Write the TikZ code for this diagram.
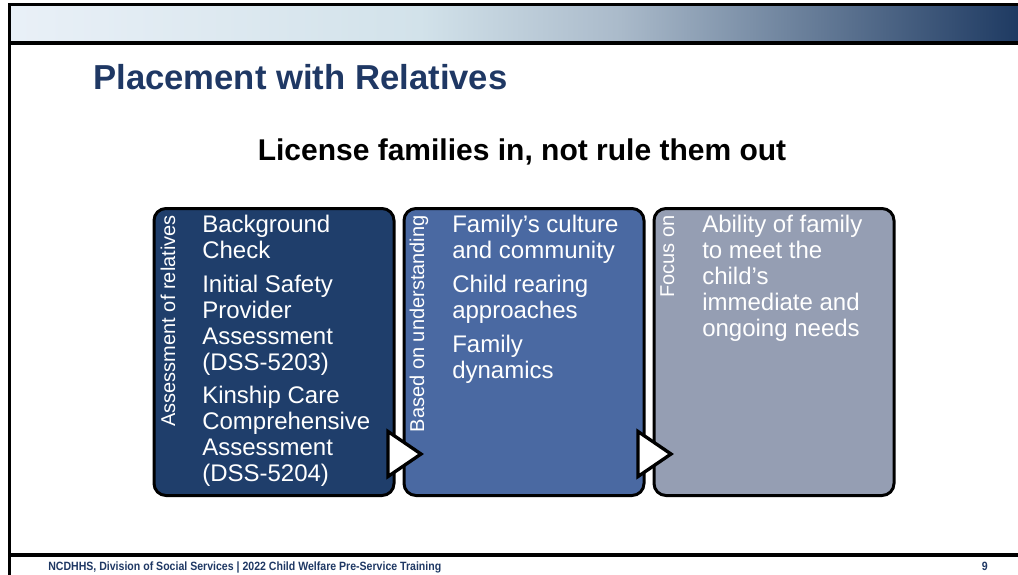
\documentclass[tikz,border=0pt]{standalone}
\usepackage{fontspec}
\setmainfont{Liberation Sans}
\newfontfamily\narrowsans[FakeStretch=0.88]{Liberation Sans}
\usetikzlibrary{positioning,calc}
\definecolor{KinNavy}{HTML}{1F3864}
\definecolor{KinDeep}{HTML}{1F3E6B}
\definecolor{KinMid}{HTML}{4A69A2}
\definecolor{KinSlate}{HTML}{959EB3}
\definecolor{BandA}{HTML}{E9F0F7}
\definecolor{BandB}{HTML}{D2E2EA}
\definecolor{BandC}{HTML}{AABACA}
\definecolor{BandD}{HTML}{1E3A62}

\begin{document}
\begin{tikzpicture}[x=0.75pt, y=-0.75pt,
  stagebox/.style={draw=black, line width=2.25pt, rounded corners=9pt,
    minimum width=180pt, minimum height=215.25pt, inner sep=0pt, outer sep=0pt},
  sidelabel/.style={rotate=90, anchor=base east, inner sep=0pt, text=white,
    font=\fontsize{15}{18}\selectfont},
  itemtext/.style={anchor=north west, inner sep=0pt, align=left, text=white,
    font=\fontsize{18}{19.5}\selectfont},
  flowtip/.style={fill=white, draw=black, line width=2.5pt, line join=miter}]
  \useasboundingbox (0,0) rectangle (1018,575);
  % header band and frame
  \fill[black] (8,3) rectangle (1018,45);
  \shade[left color=BandA, right color=BandB] (10.5,6) rectangle (420.5,40);
  \shade[left color=BandB, right color=BandC] (420,6) rectangle (620.5,40);
  \shade[left color=BandC, right color=BandD] (620,6) rectangle (1018,40);
  \fill[black] (8,3) rectangle (10.5,575);
  \fill[black] (8,553) rectangle (1018,557);

  \node[anchor=base west, inner sep=0pt, text=KinNavy,
        font=\bfseries\fontsize{26}{30}\selectfont] (title) at (93,89)
        {Placement with Relatives};
  \node[anchor=base, inner sep=0pt,
        font=\bfseries\fontsize{22.5}{26}\selectfont] (motto) at (522,160)
        {License families in, not rule them out};

  % the three stages
  \node[stagebox, fill=KinDeep] (assess) at (274,352) {};
  \node[stagebox, fill=KinMid, right=7.5pt of assess] (understand) {};
  \node[stagebox, fill=KinSlate, right=7.5pt of understand] (focus) {};

  \node[sidelabel] (assesslbl) at ($(assess.north west)+(21,6.5)$) {Assessment of relatives};
  \node[sidelabel] (understandlbl) at ($(understand.north west)+(20,6.5)$) {Based on understanding};
  \node[sidelabel] (focuslbl) at ($(focus.north west)+(20,6.5)$) {Focus on};

  \node[itemtext] (assesstxt) at ($(assess.north west)+(48,6.5)$)
        {Background\\Check\\[6pt]Initial Safety\\Provider\\Assessment\\(DSS-5203)\\[5pt]Kinship Care\\Comprehensive\\Assessment\\(DSS-5204)};
  \node[itemtext] (understandtxt) at ($(understand.north west)+(48,6.5)$)
        {Family’s culture\\and community\\[6pt]Child rearing\\approaches\\[6pt]Family\\dynamics};
  \node[itemtext] (focustxt) at ($(focus.north west)+(48,6.5)$)
        {Ability of family\\to meet the\\child’s\\immediate and\\ongoing needs};

  \draw[flowtip] ($(assess.south east)+(-6,-64)$) -- ++(0,45)
        -- ($(assess.south east)+(27,-41.5)$) -- cycle;
  \draw[flowtip] ($(understand.south east)+(-6,-64)$) -- ++(0,45)
        -- ($(understand.south east)+(27,-41.5)$) -- cycle;

  % footer
  \node[anchor=base west, inner sep=0pt, text=KinNavy,
        font=\narrowsans\bfseries\fontsize{9}{10}\selectfont] (foot) at (48,570)
        {NCDHHS, Division of Social Services | 2022 Child Welfare Pre-Service Training};
  \node[anchor=base east, inner sep=0pt, text=KinNavy,
        font=\narrowsans\bfseries\fontsize{9}{10}\selectfont] (page) at (988,570) {9};
\end{tikzpicture}
\end{document}
